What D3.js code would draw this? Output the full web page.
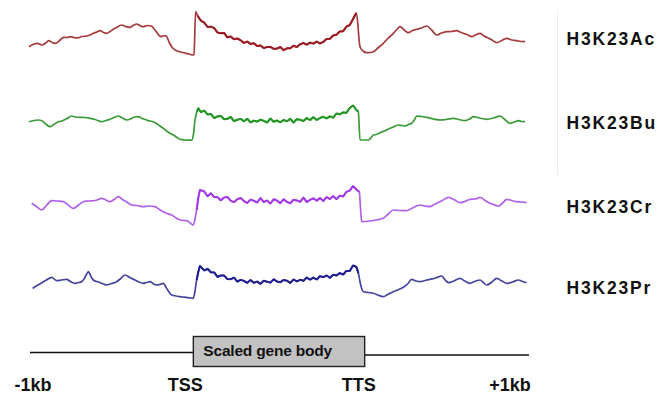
<!DOCTYPE html>
<html>
<head>
<meta charset="utf-8">
<script src="https://cdn.jsdelivr.net/npm/d3@7"></script>
<style>
  html, body { margin: 0; padding: 0; background: #fff; }
  svg { display: block; }
  text { font-family: "Liberation Sans", Arial, sans-serif; font-weight: bold; fill: #111; }
</style>
</head>
<body>
<svg id="chart" width="670" height="403"></svg>
<script>
// ---- Data (metagene position: 0 = -1kb, 100 = TSS, 200 = TTS, 300 = +1kb) ----
const seriesNames = ["H3K23Ac", "H3K23Bu", "H3K23Cr", "H3K23Pr"];
const tickValues = [0, 100, 200, 300];
const tickLabels = ["-1kb", "TSS", "TTS", "+1kb"];
const geneBodyLabel = "Scaled gene body";

const acPoints = [[0,13.3],[2.5,15.5],[5,16.7],[8,15],[10,17],[12,19.3],[14,17.5],[16,16.7],[18.5,19.5],[21,22.7],[23,22.5],[25,23.3],[27,22.5],[29,22],[32,23.5],[35,24],[37,25],[39,26.7],[41,28],[43,29.3],[45,27.5],[47,26.7],[49,28.5],[51,30.7],[53,32.5],[56,35],[58.5,33.5],[61,32.7],[63,34.5],[65,36],[67,34.5],[69,33.3],[71.5,34.5],[74,34],[75.5,31.5],[77,28.3],[78.5,25],[80,23.3],[82,24.5],[83,24],[85,17],[87,11.7],[89,9.5],[91,8.3],[93,7.5],[95,6.7],[97,6],[99,5],[99.8,5.5],[100.8,48.3],
  [102,44.2],[104,39.4],[106,37.3],[108,33],[110,33.3],[112,31.9],[114,27.6],[116,26.8],[118,27.1],[120,22.7],[122,23.4],[124,20.8],[126,21.5],[128,19.7],[130,17.1],[132,18.4],[134,16.1],[136,16.8],[138,14],[140,14.6],[142,11.9],[144,13],[146,13.1],[148,11.2],[150,11.4],[152,13],[154,9.8],[156,11.7],[158,11.7],[160,14.2],[162,13],[164,15.7],[166,16.9],[168,15.4],[170,17.4],[172,16.4],[174,18.4],[176,16.6],[178,18.1],[180,21],[182,21.2],[184,24.6],[186,25.3],[188,28.6],[190,28.8],[192,33.3],[194,35],[196,41],[198,47],
  [200.2,13.3],[202,9],[204.3,7.3],[206.3,7.5],[208.3,8.3],[211,12],[214.3,16.7],[217,21.5],[220.4,26.7],[222.5,30.5],[224.4,33.3],[227,30],[229.4,27.3],[232,29.5],[234.5,30.7],[237.5,32],[240.6,34],[243.5,30],[246.6,25],[249.5,27],[252.7,28.3],[255.5,28.5],[258.7,29.3],[260.7,28],[262.7,26.7],[265,25.5],[267.8,23.3],[270,25],[272.8,26.7],[274.8,24.5],[276.8,22.7],[280,20],[282.9,17.3],[286,19.5],[289,21.7],[292,20],[295,19.3],[297.5,18.5],[300,18.3]];

const buPoints = [[0,20.3],[3,21.5],[5.6,22],[8,21],[10.5,17.5],[12.7,15.3],[15,17.5],[17.7,20.3],[20,21],[23,23.5],[25.8,26],[28,25],[30.8,24.7],[34,24.5],[36.9,23.7],[40,22.5],[44,20.3],[46.5,21.5],[49,22.7],[51.5,24.5],[54,26],[56.5,24],[59.1,22],[62,23.5],[64,25],[66.1,25.3],[68.5,23.5],[71.2,22],[73,21],[75.2,20.3],[78,17.5],[81.2,13.7],[84,10],[87.3,7],[89.5,4.5],[91.3,2.7],[94,2],[96.5,1.8],[98.4,2],[99.5,8],[100.4,22],[101.5,30],[102.4,33.7],
  [104,30],[106,31.3],[108,27.6],[110,27.9],[112,24],[114,25.6],[116,26],[118,22.8],[120,23.2],[122,25],[124,20.9],[126,22.2],[128,23.1],[130,20.7],[132,23.2],[134,19.6],[136,21.4],[138,20.4],[140,22.3],[142,21.1],[144,19.5],[146,23.4],[148,20.3],[150,21.5],[152,19.7],[154,22],[156,20.8],[158,23.1],[160,19.5],[162,22.8],[164,22.3],[166,20.9],[168,23.9],[170,22],[172,24.8],[174,22.1],[176,24],[178,25.2],[180,23.6],[182,25.7],[184,24.3],[186,28.5],[188,27.7],[190,29.6],[192,29.3],[194,34],[196,36.5],[198,32],[199.2,30.3],
  [200.2,2],[203,2],[205.3,2],[207,4.5],[208.3,7],[210,7.5],[212.3,9.3],[215,11],[218.4,13.7],[221,15.5],[223.4,17],[225.5,16.5],[227.4,16],[229.5,17.5],[231.5,18.7],[233,22],[234.5,26],[237.5,25.5],[240.6,24.7],[244.5,23],[248.6,22],[252.5,22.5],[256.7,23.7],[260,22.5],[263.7,21.3],[266.5,23],[268.8,25.3],[272.5,24],[276.8,22.7],[281,24],[284.9,26],[287.5,23],[291,18.7],[293.5,20],[296,21.3],[298,20.5],[300,20.3]];

const crPoints = [[1.6,24.7],[4.5,21.5],[7.7,18],[10.5,22.5],[13.7,27.3],[17,27],[20.7,26.3],[24,22.5],[26.8,19.7],[30,23],[32.8,26.3],[36,27],[40,27.5],[44,29.7],[46.5,28],[49,26.3],[51.5,28.5],[54,31.3],[57,28],[60,25],[62.1,23],[65.5,22.5],[69.1,21.3],[72.5,22],[76.2,21.3],[78.5,19],[81.2,16.3],[83.5,14.5],[86.3,13],[89,10],[91.3,8],[93.5,7.5],[95.4,7.3],[97.5,5],[99.4,3],[100.5,10],[101.4,18],[102.4,30],[103.4,38],
  [106,36.5],[108,31.7],[110,34.7],[112,31],[114,30.8],[116,27.7],[118,30.5],[120,31],[122,27.3],[124,25.9],[126,28.8],[128,29.9],[130,26.9],[132,25.1],[134,28.4],[136,27.2],[138,25.5],[140,29.8],[142,26],[144,27.5],[146,24.5],[148,28.7],[150,27.4],[152,24.9],[154,28.6],[156,26.1],[158,24.8],[160,28.2],[162,27.6],[164,26.2],[166,30.4],[168,26.1],[170,28.1],[172,29.6],[174,27.4],[176,29.9],[178,27],[180,30.8],[182,29.1],[184,31.8],[186,29],[188,32.2],[190,31.7],[192,36.1],[194,37.4],[196,41.8],[198,38.5],[199.8,36],
  [200.5,20],[201.2,6.3],[203.5,6.5],[206.3,7],[210,8],[214.3,9.7],[217,13.5],[220.4,18],[224,17.5],[228.4,17.3],[232,20],[236.5,23],[239.5,22],[242.6,21.3],[244.5,23],[246.6,24.7],[250,27.5],[253.7,30.7],[257,28.5],[260.7,25.3],[263.5,26.5],[266.7,28.7],[270,29],[272.8,30.7],[275.5,28],[278.8,24.7],[281,23.5],[283.9,22],[286.5,25],[289,28.7],[292,27.5],[295,26.3],[298,26],[301,25.3]];

const prPoints = [[2.2,13.7],[5,16.5],[7.7,19.3],[10.5,22],[13.7,24.7],[16.8,21.3],[19.5,22],[22.8,22.7],[25,20.5],[27.8,18.7],[30,19.5],[31.9,20.3],[34,25],[35.9,30.3],[37.5,25.5],[38.9,22],[42,20],[45,18],[47,17],[50,18.5],[53,20.3],[55.5,23.5],[58.1,27],[61,24.5],[64.1,22],[66.5,20],[69.1,18.7],[71,19.5],[73.2,20.3],[75,18.5],[77.2,17],[79,17.5],[81.2,18.7],[83.5,13],[86.3,7],[89,6],[91.3,5.3],[94,4.8],[97,4.2],[99.4,3.7],[100.5,12],[101.4,22],[102.4,30],[103.4,36],
  [106,31.6],[108,33.2],[110,29.7],[112,29.6],[114,25.1],[116,26.5],[118,26.4],[120,23],[122,22.8],[124,24.3],[126,20.4],[128,22.1],[130,21.1],[132,19.2],[134,21.9],[136,19.3],[138,20.4],[140,18.2],[142,21.2],[144,20.3],[146,19.4],[148,22.6],[150,20.5],[152,19.8],[154,22],[156,21.3],[158,19.1],[160,22.5],[162,20.6],[164,22.2],[166,21.3],[168,24.4],[170,22.4],[172,24.4],[174,22.5],[176,25.8],[178,24.9],[180,26.5],[182,24.2],[184,27.2],[186,26.6],[188,28.9],[190,27.5],[192,31.1],[194,30.9],[196,36.5],[198,35],[199.2,29],
  [200.5,18],[202.2,10.3],[205,9.5],[208.3,8.7],[211,7],[214.3,5.3],[217,7.5],[220.4,10.3],[223,12],[226.4,14.7],[229,18],[231.5,22.7],[234,21],[236.5,20.3],[239.5,21.5],[242.6,22.7],[246,24],[249.6,26],[251.5,22.5],[253.7,19.3],[257,21],[260.7,23.7],[263.5,21],[266.7,18.7],[269.5,20.5],[272.8,22],[274.8,19.5],[276.8,17],[280,20],[282.9,23.7],[286,21],[289,18.7],[292.5,20],[296,22],[298.5,20.5],[301,19.3]];

const seriesPoints = [acPoints, buPoints, crPoints, prPoints];

// ---- Layout / style ----
const flankColors = ["#a63a3c", "#3a9a3a", "#b060ea", "#44449e"];
const bodyColors  = ["#9a1c22", "#219621", "#a33ae6", "#1f1f92"];
const panelBottoms = [60, 142, 228, 302];
const labelBaselines = [44.5, 129.3, 212.5, 293.5];

const svg = d3.select("#chart");
const x = d3.scaleLinear().domain([0, 300]).range([29, 525]);

// faint separator line
svg.append("line").attr("x1", 557.5).attr("x2", 557.5).attr("y1", 10).attr("y2", 175)
  .attr("stroke", "#ececec").attr("stroke-width", 1);

seriesPoints.forEach((pts, i) => {
  const y = d3.scaleLinear().domain([0, 50]).range([panelBottoms[i], panelBottoms[i] - 50]);
  const smooth = d3.line().x(d => x(d[0])).y(d => y(d[1])).curve(d3.curveMonotoneX);
  const jag = d3.line().x(d => x(d[0])).y(d => y(d[1]));
  const g = svg.append("g");
  g.append("path").datum(pts).attr("d", smooth)
    .attr("fill", "none").attr("stroke", flankColors[i]).attr("stroke-width", 1.7)
    .attr("stroke-linejoin", "round");
  const body = pts.filter(d => d[0] >= 101 && d[0] <= 199.9);
  g.append("path").datum(body).attr("d", jag)
    .attr("fill", "none").attr("stroke", bodyColors[i]).attr("stroke-width", 2)
    .attr("stroke-linejoin", "round");
  svg.append("text").attr("x", 566.5).attr("y", labelBaselines[i])
    .attr("font-size", 17.5).attr("letter-spacing", 1.8)
    .text(seriesNames[i]);
});

// gene model
const modelY = 352.5;
svg.append("line").attr("x1", x(0) + 1).attr("x2", x(100)).attr("y1", modelY).attr("y2", modelY)
  .attr("stroke", "#111").attr("stroke-width", 1.6);
svg.append("line").attr("x1", x(200) + 4).attr("x2", x(300) + 4).attr("y1", modelY + 2.5).attr("y2", modelY + 2.5)
  .attr("stroke", "#111").attr("stroke-width", 1.6);
svg.append("rect").attr("x", x(100) - 1).attr("y", 336.5).attr("width", x(200) - x(100) + 6).attr("height", 30)
  .attr("fill", "#c2c2c2").attr("stroke", "#222").attr("stroke-width", 1.4);
svg.append("text").attr("x", x(100) + 9).attr("y", 356).attr("font-size", 15.5).attr("letter-spacing", -0.2)
  .text(geneBodyLabel);

const tickOffsets = [4, -9, -1, -15];
tickValues.forEach((t, i) => {
  svg.append("text").attr("x", x(t) + tickOffsets[i]).attr("y", 391)
    .attr("text-anchor", "middle").attr("font-size", 18).text(tickLabels[i]);
});
</script>
</body>
</html>
